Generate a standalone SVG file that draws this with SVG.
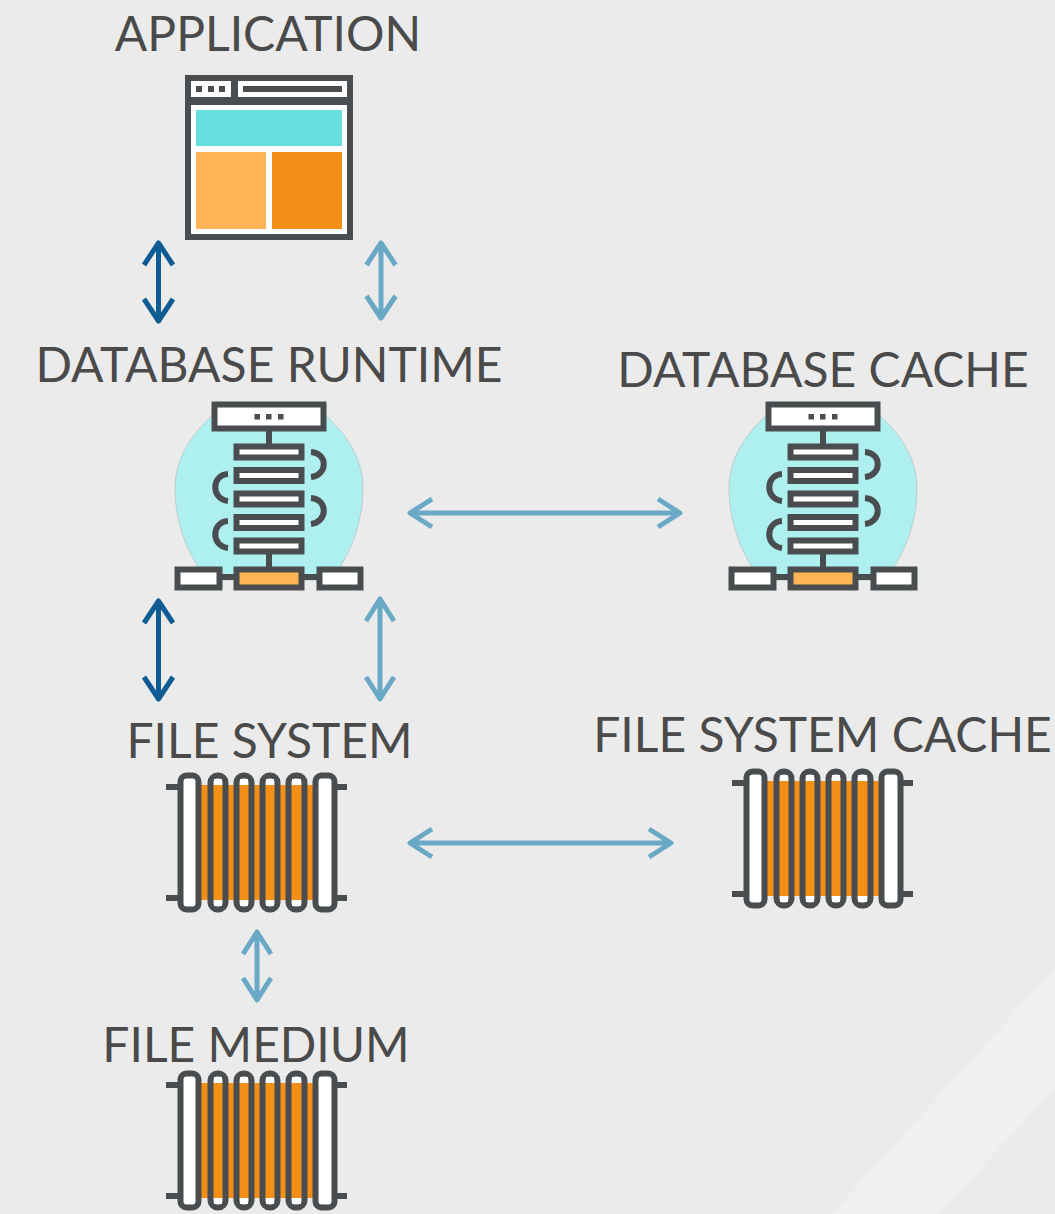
<svg xmlns="http://www.w3.org/2000/svg" width="1055" height="1214" viewBox="0 0 1055 1214">
<defs>
<style>
.lbl{font-family:Lato,"Liberation Sans",sans-serif;font-size:48px;fill:#4a4a4a}
.ln{fill:none;stroke:#4a4e4f;stroke-width:6}
.wb{fill:#fff;stroke:#4a4e4f;stroke-width:6}
.dk{fill:#4a4e4f}
.dark{fill:none;stroke:#0f5c94;stroke-width:5;stroke-linejoin:round}
.light{fill:none;stroke:#6aa9c6;stroke-width:5;stroke-linejoin:round}
</style>
<filter id="soft" x="-5%" y="-5%" width="110%" height="110%"><feGaussianBlur stdDeviation="0.7"/></filter>
<g id="db-icon" filter="url(#soft)">
<path d="M175 488C175 460 190 435 215 413L323 413C348 435 363 460 363 488C363 515 355 545 338 570L330 580L208 580L200 570C183 545 175 515 175 488Z" fill="#aeefef" stroke="#b9c4c4" stroke-width="0.800"/>
<rect class="wb" x="214.500" y="404.500" width="109" height="24"/>
<rect class="dk" x="254.500" y="414" width="5.500" height="5.500"/><rect class="dk" x="266" y="414" width="5.500" height="5.500"/><rect class="dk" x="278" y="414" width="5.500" height="5.500"/>
<path class="ln" d="M269 431V444M269 554V568M222 577H234M304 577H317"/>
<rect class="wb" x="236.500" y="446.500" width="65" height="11"/>
<rect class="wb" x="236.500" y="470" width="65" height="11"/>
<rect class="wb" x="236.500" y="493.500" width="65" height="11"/>
<rect class="wb" x="236.500" y="517" width="65" height="11"/>
<rect class="wb" x="236.500" y="540.500" width="65" height="11"/>
<path class="ln" d="M311 452C328 453 328 475 311 477M311 498C328 499 328 522 311 524M228 474C211 475 211 499 228 501M228 521C211 522 211 546 228 548"/>
<rect class="wb" x="177.500" y="569.500" width="42" height="18"/>
<rect x="236.500" y="569.500" width="65" height="18" fill="#ffb454" stroke="#4a4e4f" stroke-width="6"/>
<rect class="wb" x="319.500" y="569.500" width="41" height="18"/>
</g>
<g id="file-icon" filter="url(#soft)">
<rect x="200" y="785" width="114" height="115" fill="#f38e12"/>
<path class="ln" d="M166 787H178M166 898H178M337 787H347M337 898H347"/>
<rect class="wb" x="180.500" y="775.500" width="18" height="134" rx="6"/>
<rect class="wb" x="315.500" y="775.500" width="19" height="134" rx="6"/>
<rect class="ln" x="210.500" y="775.500" width="15" height="134" rx="7"/>
<rect class="ln" x="236.500" y="775.500" width="15" height="134" rx="7"/>
<rect class="ln" x="262.500" y="775.500" width="15" height="134" rx="7"/>
<rect class="ln" x="288.500" y="775.500" width="16" height="134" rx="7"/>
<path d="M214 779H222V785H214ZM240 779H248V785H240ZM266 779H274V785H266ZM292 779H301V785H292ZM214 900H222V906H214ZM240 900H248V906H240ZM266 900H274V906H266ZM292 900H301V906H292Z" fill="#fff"/>
</g>
</defs>
<rect width="1055" height="1214" fill="#ebebeb"/>
<path d="M832 1214L1055 968V1087L939 1214Z" fill="#f0f0f0"/>
<g id="connectors">
<path class="dark" d="M158.500 243V321M144 265L158.500 243L173 265M144 299L158.500 321L173 299"/>
<path class="light" d="M381 243V318M366.500 265L381 243L395.500 265M366.500 296L381 318L395.500 296"/>
<path class="dark" d="M158.500 601V699M144 623L158.500 601L173 623M144 677L158.500 699L173 677"/>
<path class="light" d="M380 599V699M366 621L380 599L394 621M366 677L380 699L394 677"/>
<path class="light" d="M410 513H680M432 499L410 513L432 527M658 499L680 513L658 527"/>
<path class="light" d="M410 843H671M432 829L410 843L432 857M649 829L671 843L649 857"/>
<path class="light" d="M257 932V1000M243 954L257 932L271 954M243 978L257 1000L271 978"/>
</g>
<g id="application">
<text class="lbl" x="268" y="51" text-anchor="middle">APPLICATION</text>
<g filter="url(#soft)">
<rect x="185" y="75" width="168" height="165" fill="#4a4e4f"/>
<rect x="191" y="81" width="40" height="16" fill="#fff"/>
<rect x="238" y="81" width="109" height="16" fill="#fff"/>
<rect x="243" y="86" width="99" height="6" fill="#4a4e4f"/>
<rect x="196" y="86" width="6" height="6" fill="#4a4e4f"/><rect x="208" y="86" width="6" height="6" fill="#4a4e4f"/><rect x="219" y="86" width="6" height="6" fill="#4a4e4f"/>
<rect x="191" y="105" width="156" height="129" fill="#fff"/>
<rect x="196" y="110" width="146" height="36" fill="#66dfe0"/>
<rect x="196" y="152" width="70" height="77" fill="#ffb454"/>
<rect x="272" y="152" width="70" height="77" fill="#f38e12"/>
</g>
</g>
<g id="database-runtime">
<text class="lbl" x="269" y="382" text-anchor="middle">DATABASE RUNTIME</text>
<use href="#db-icon"/>
</g>
<g id="database-cache">
<text class="lbl" x="823" y="387" text-anchor="middle">DATABASE CACHE</text>
<use href="#db-icon" x="554"/>
</g>
<g id="file-system">
<text class="lbl" x="269.500" y="758" text-anchor="middle">FILE SYSTEM</text>
<use href="#file-icon"/>
</g>
<g id="file-system-cache">
<text class="lbl" x="822.500" y="752" text-anchor="middle">FILE SYSTEM CACHE</text>
<use href="#file-icon" x="566" y="-4"/>
</g>
<g id="file-medium">
<text class="lbl" x="256" y="1062" text-anchor="middle">FILE MEDIUM</text>
<use href="#file-icon" y="298"/>
</g>
</svg>
